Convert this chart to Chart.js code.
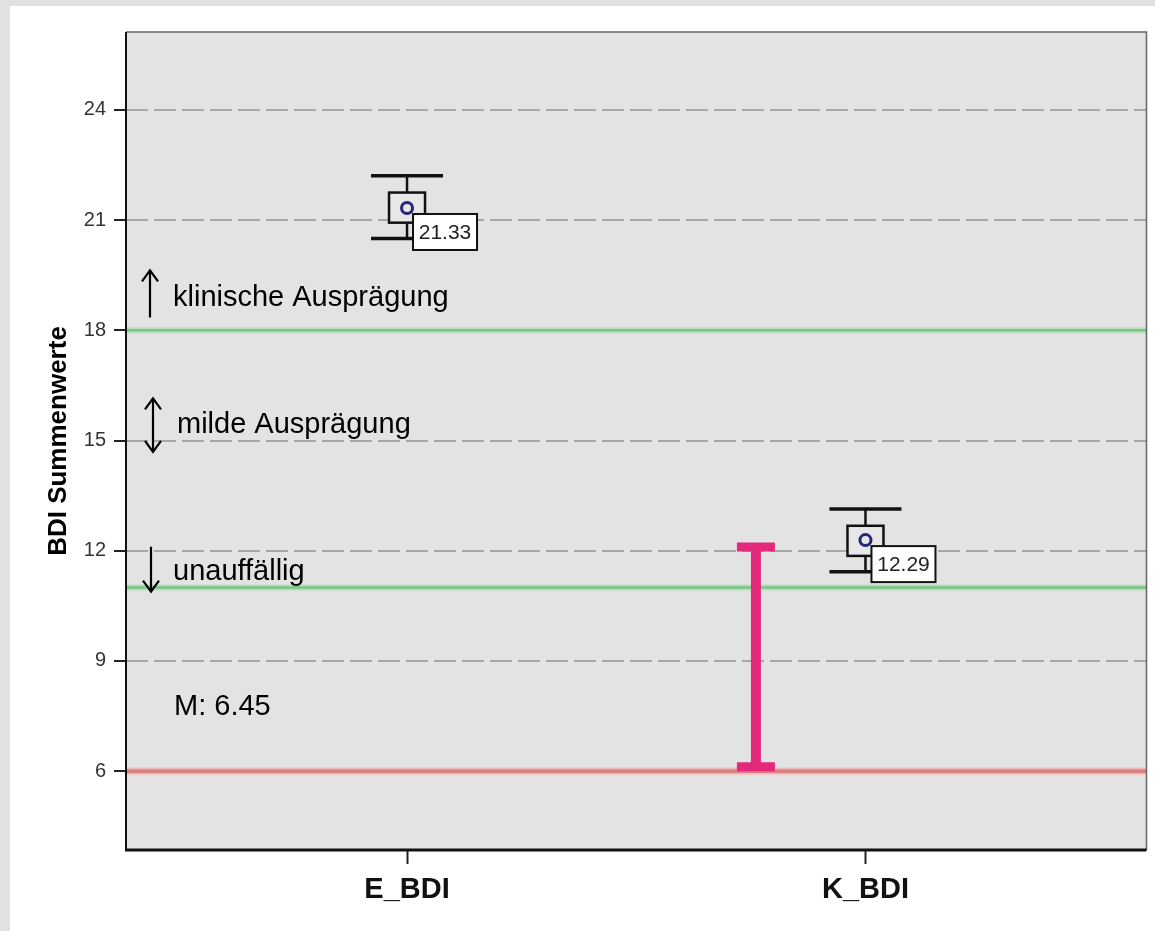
<!DOCTYPE html>
<html><head><meta charset="utf-8">
<script src="https://cdn.jsdelivr.net/npm/chart.js@4/dist/chart.umd.min.js"></script>
<style>
html,body{margin:0;padding:0;background:#e1e1e1;width:1155px;height:931px;overflow:hidden}
#panel{position:absolute;left:10px;top:6px;width:1145px;height:925px;background:#fff}
canvas{display:block}
</style></head><body>
<div id="panel"><canvas id="c" width="1145" height="925"></canvas></div>
<script>
// ---------- data ----------
const categories = ['E_BDI', 'K_BDI'];
const categoryPos = [1, 2];
const means = [21.33, 12.29];
const boxLow = [20.93, 11.86];
const boxHigh = [21.75, 12.68];
const whiskerLow = [20.50, 11.43];
const whiskerHigh = [22.21, 13.14];
const meanLabels = ['21.33', '12.29'];
const yTicks = [6, 9, 12, 15, 18, 21, 24];
const greenLines = [18, 11];
const redLines = [6];
const diffBarX = [1.761];
const diffBarLow = [6.12];
const diffBarHigh = [12.10];
const bandTexts = ['klinische Ausprägung', 'milde Ausprägung', 'unauffällig'];
const noteTexts = ['M: 6.45'];

// ---------- annotation placement (in axis units) ----------
const bandLayout = [
  {kind: 'up',   top: 19.63, bottom: 18.35, textY: 18.67, arrowDx: 24, textDx: 47},
  {kind: 'both', top: 16.15, bottom: 14.69, textY: 15.20, arrowDx: 27, textDx: 51},
  {kind: 'down', top: 12.11, bottom: 10.89, textY: 11.21, arrowDx: 25, textDx: 47}
];
const noteLayout = [{y: 7.52, dx: 48}];

const FONT = '"Liberation Sans", Arial, Helvetica, sans-serif';

function hline(ctx, a, py, halo, haloW, core, coreW) {
  ctx.save();
  ctx.strokeStyle = halo; ctx.lineWidth = haloW;
  ctx.beginPath(); ctx.moveTo(a.left, py); ctx.lineTo(a.right, py); ctx.stroke();
  ctx.strokeStyle = core; ctx.lineWidth = coreW;
  ctx.beginPath(); ctx.moveTo(a.left, py); ctx.lineTo(a.right, py); ctx.stroke();
  ctx.restore();
}
function arrowHead(ctx, x, y, dir) {
  ctx.beginPath();
  ctx.moveTo(x - 8, y - dir * 11);
  ctx.lineTo(x, y);
  ctx.lineTo(x + 8, y - dir * 11);
  ctx.stroke();
}

const overlay = {
  id: 'overlay',
  beforeDraw(chart) {
    const {ctx, chartArea: a} = chart;
    ctx.save();
    ctx.fillStyle = '#e3e3e3';
    ctx.fillRect(a.left, a.top, a.width, a.height);
    ctx.restore();
  },
  beforeDatasetsDraw(chart) {
    const {ctx, chartArea: a} = chart;
    const xs = chart.scales.x, ys = chart.scales.y;
    greenLines.forEach(v => hline(ctx, a, ys.getPixelForValue(v), 'rgba(165,220,172,0.7)', 6, '#7cc388', 2.5));
    redLines.forEach(v => hline(ctx, a, ys.getPixelForValue(v), 'rgba(245,175,175,0.8)', 7, '#d28282', 3.5));

    // difference bar
    ctx.save();
    ctx.strokeStyle = '#e4297a';
    diffBarX.forEach((xv, i) => {
      const px = xs.getPixelForValue(xv);
      const t = ys.getPixelForValue(diffBarHigh[i]);
      const b = ys.getPixelForValue(diffBarLow[i]);
      ctx.lineWidth = 10;
      ctx.beginPath(); ctx.moveTo(px, t); ctx.lineTo(px, b); ctx.stroke();
      ctx.lineWidth = 9;
      ctx.beginPath(); ctx.moveTo(px - 19, t); ctx.lineTo(px + 19, t); ctx.stroke();
      ctx.beginPath(); ctx.moveTo(px - 19, b); ctx.lineTo(px + 19, b); ctx.stroke();
    });
    ctx.restore();

    // whiskers and boxes
    ctx.save();
    categoryPos.forEach((xv, i) => {
      const px = xs.getPixelForValue(xv);
      const wt = ys.getPixelForValue(whiskerHigh[i]);
      const wb = ys.getPixelForValue(whiskerLow[i]);
      const bt = ys.getPixelForValue(boxHigh[i]);
      const bb = ys.getPixelForValue(boxLow[i]);
      ctx.strokeStyle = '#111';
      ctx.lineWidth = 2.5;
      ctx.beginPath(); ctx.moveTo(px, wt); ctx.lineTo(px, wb); ctx.stroke();
      ctx.lineWidth = 3.5;
      ctx.beginPath(); ctx.moveTo(px - 36, wt); ctx.lineTo(px + 36, wt); ctx.stroke();
      ctx.beginPath(); ctx.moveTo(px - 36, wb); ctx.lineTo(px + 36, wb); ctx.stroke();
      ctx.fillStyle = '#e7e7e7';
      ctx.fillRect(px - 18, bt, 36, bb - bt);
      ctx.lineWidth = 2.5;
      ctx.strokeRect(px - 18, bt, 36, bb - bt);
    });
    ctx.restore();

    // frame
    ctx.save();
    ctx.strokeStyle = '#666'; ctx.lineWidth = 1.5;
    ctx.beginPath(); ctx.moveTo(a.left, a.top); ctx.lineTo(a.right, a.top); ctx.lineTo(a.right, a.bottom); ctx.stroke();
    ctx.strokeStyle = '#111'; ctx.lineWidth = 2;
    ctx.beginPath(); ctx.moveTo(a.left, a.top); ctx.lineTo(a.left, a.bottom); ctx.stroke();
    ctx.lineWidth = 3;
    ctx.beginPath(); ctx.moveTo(a.left - 1, a.bottom); ctx.lineTo(a.right, a.bottom); ctx.stroke();
    ctx.restore();
  },
  afterDatasetsDraw(chart) {
    const {ctx, chartArea: a} = chart;
    const xs = chart.scales.x, ys = chart.scales.y;
    ctx.save();
    // mean labels
    categoryPos.forEach((xv, i) => {
      const px = xs.getPixelForValue(xv);
      const py = ys.getPixelForValue(means[i]);
      const lx = px + 6, ly = py + 6;
      ctx.fillStyle = '#fff';
      ctx.fillRect(lx, ly, 64, 36);
      ctx.strokeStyle = '#111'; ctx.lineWidth = 2;
      ctx.strokeRect(lx, ly, 64, 36);
      ctx.fillStyle = '#222';
      ctx.font = '21px ' + FONT;
      ctx.textAlign = 'center'; ctx.textBaseline = 'middle';
      ctx.fillText(meanLabels[i], lx + 32, ly + 19);
    });
    // band annotations
    ctx.strokeStyle = '#000'; ctx.lineWidth = 2.2;
    ctx.fillStyle = '#000';
    ctx.font = '29px ' + FONT;
    ctx.textAlign = 'left'; ctx.textBaseline = 'alphabetic';
    bandLayout.forEach((L, i) => {
      const ax = a.left + L.arrowDx;
      const t = ys.getPixelForValue(L.top), b = ys.getPixelForValue(L.bottom);
      ctx.beginPath(); ctx.moveTo(ax, t); ctx.lineTo(ax, b); ctx.stroke();
      if (L.kind === 'up' || L.kind === 'both') arrowHead(ctx, ax, t, -1);
      if (L.kind === 'down' || L.kind === 'both') arrowHead(ctx, ax, b, 1);
      ctx.fillText(bandTexts[i], a.left + L.textDx, ys.getPixelForValue(L.textY));
    });
    noteLayout.forEach((L, i) => {
      ctx.fillText(noteTexts[i], a.left + L.dx, ys.getPixelForValue(L.y));
    });
    ctx.restore();
  }
};

new Chart(document.getElementById('c'), {
  type: 'scatter',
  data: {
    datasets: [{
      data: categoryPos.map((x, i) => ({x, y: means[i]})),
      pointStyle: 'circle',
      pointRadius: 5.5,
      pointHoverRadius: 5.5,
      borderColor: '#25257a',
      borderWidth: 3,
      backgroundColor: 'rgba(0,0,0,0)'
    }]
  },
  options: {
    responsive: false,
    animation: false,
    events: [],
    layout: {padding: {top: 26, right: 2, left: 0, bottom: 0}},
    plugins: {legend: {display: false}, tooltip: {enabled: false}},
    scales: {
      x: {
        type: 'linear',
        position: 'bottom',
        min: 0.387, max: 2.613,
        afterBuildTicks: s => { s.ticks = categoryPos.map(v => ({value: v})); },
        afterFit: s => { s.height = 81; },
        ticks: {
          autoSkip: false, maxRotation: 0,
          callback: v => categories[categoryPos.indexOf(v)],
          font: {family: FONT, size: 29, weight: 'bold'},
          color: '#111',
          padding: 9
        },
        grid: {drawOnChartArea: false, drawTicks: true, tickLength: 14, tickColor: '#222', tickWidth: 2},
        border: {display: false}
      },
      y: {
        min: 3.855, max: 26.12,
        afterBuildTicks: s => { s.ticks = yTicks.map(v => ({value: v})); },
        afterFit: s => { s.width = 116; },
        ticks: {font: {family: FONT, size: 20}, color: '#333', padding: 8},
        grid: {color: '#a8a8a8', lineWidth: 2, tickLength: 12, tickColor: '#222', tickWidth: 2},
        border: {display: false, dash: [22, 6]},
        title: {display: true, text: 'BDI Summenwerte', font: {family: FONT, size: 26, weight: 'bold'}, color: '#000', padding: {top: 33, bottom: 0}}
      }
    }
  },
  plugins: [overlay]
});
</script>
</body></html>
